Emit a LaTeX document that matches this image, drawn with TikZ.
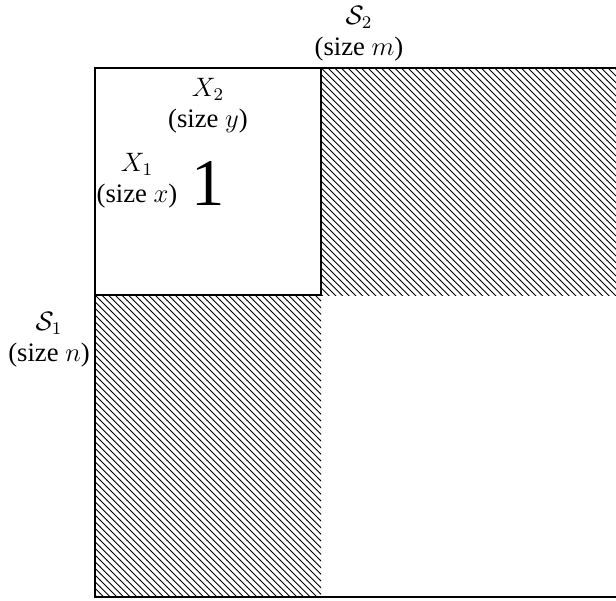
\documentclass[tikz,border=0pt]{standalone}
\usepackage[no-math]{fontspec}
\setmainfont{Liberation Serif}
\usetikzlibrary{patterns}

\begin{document}
\begin{tikzpicture}[x=0.45pt, y=-0.45pt,
  sizelbl/.style={align=center, inner sep=0pt, font=\fontsize{12}{14}\selectfont},
  hatch/.style={pattern=north west lines}]

% Page frame (the square runs past the right edge)
\clip (0,0) rectangle (616,600);

% Parameters
\def\xl{95}
\def\xm{321}
\def\xr{624}
\def\yt{68}
\def\ym{295}
\def\yb{597}

% Hatched off-diagonal blocks
\fill[hatch] (\xm,\yt) rectangle (\xr,\ym);
\fill[hatch] (\xl,\ym) rectangle (\xm,\yb);

% Whole square and the block 1
\draw[semithick] (\xl,\yt) rectangle (\xr,\yb);
\draw[semithick] (\xl,\yt) rectangle (\xm,\ym);

% Labels of the sets
\node[sizelbl] (S2) at (359,34) {$\mathcal{S}_2$\\(size $m$)};
\node[sizelbl] (S1) at (49,340) {$\mathcal{S}_1$\\(size $n$)};
\node[sizelbl] (X2) at (208,106) {$X_2$\\(size $y$)};
\node[sizelbl] (X1) at (137,181) {$X_1$\\(size $x$)};

% Value of the block
\node[inner sep=0pt, font=\fontsize{30}{36}\selectfont] (one) at (208,183) {1};

\end{tikzpicture}
\end{document}
